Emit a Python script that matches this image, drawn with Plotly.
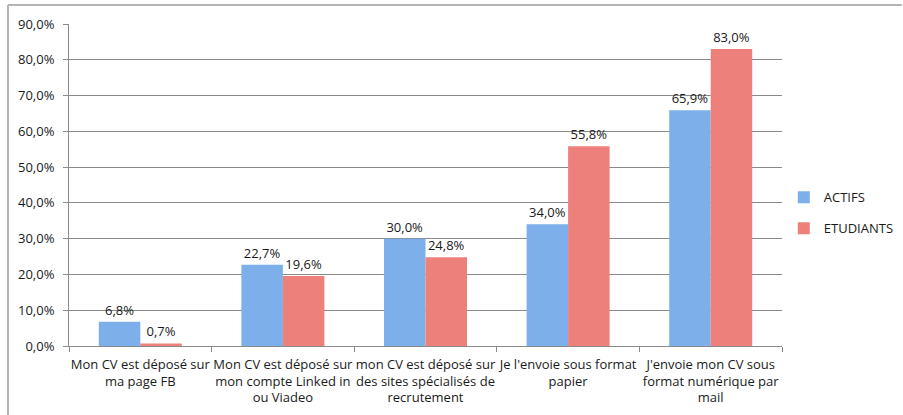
import plotly.graph_objects as go

# ── Data ───────────────────────────────────────────────────────────────────
CATEGORIES = [
    "Mon CV est déposé sur<br>ma page FB",
    "Mon CV est déposé sur<br>mon compte Linked in<br>ou Viadeo",
    "mon CV est déposé sur<br>des sites spécialisés de<br>recrutement",
    "Je l'envoie sous format<br>papier",
    "J'envoie mon CV sous<br>format numérique par<br>mail",
]
ACTIFS = [6.8, 22.7, 30.0, 34.0, 65.9]
ETUDIANTS = [0.7, 19.6, 24.8, 55.8, 83.0]
Y_TICKS = [0, 10, 20, 30, 40, 50, 60, 70, 80, 90]
Y_TICK_TEXT = [f"{v:.1f}%".replace(".", ",") for v in Y_TICKS]

FONT = {"family": "Open Sans, Noto Sans, sans-serif", "size": 13, "color": "#1a1a1a"}
AXIS_GREY = "#8a8a8a"
FRAME_GREY = "#b4b4b4"

fig = go.Figure()
fig.add_trace(go.Bar(
    x=CATEGORIES, y=ACTIFS, name="ACTIFS",
    marker={"color": "#7dafea", "line": {"width": 0}},
    texttemplate="%{y:.1f}%", textposition="outside",
    textfont=FONT, cliponaxis=False, legendgroup="a",
))
fig.add_trace(go.Bar(
    x=CATEGORIES, y=ETUDIANTS, name="ETUDIANTS",
    marker={"color": "#ed807a", "line": {"width": 0}},
    texttemplate="%{y:.1f}%", textposition="outside",
    textfont=FONT, cliponaxis=False, legendgroup="b",
))

# the paper runs to the top edge; the y axis only uses the lower part of it,
# so the frame's top edge can sit inside the paper
fig.update_layout(
    width=903, height=415,
    margin={"l": 69, "r": 121, "t": 0, "b": 69, "autoexpand": False},
    paper_bgcolor="white", plot_bgcolor="white",
    font=FONT,
    separators=", ",
    barmode="group", bargap=0.418, bargroupgap=0,
    legend={
        "xref": "container", "yref": "container",
        "x": 0.868, "y": 0.487, "xanchor": "left", "yanchor": "middle",
        "traceorder": "grouped", "tracegroupgap": 11,
        "font": FONT,
    },
    xaxis={
        "showline": True, "linecolor": AXIS_GREY, "linewidth": 1,
        "ticks": "outside", "tickson": "boundaries", "ticklen": 5,
        "tickcolor": AXIS_GREY, "showgrid": False, "tickangle": 0,
        "tickfont": FONT, "ticklabelstandoff": 6,
    },
    yaxis={
        "domain": [0, 0.9306],
        "range": [0, 90], "tickvals": Y_TICKS, "ticktext": Y_TICK_TEXT,
        "showline": True, "linecolor": AXIS_GREY, "linewidth": 1,
        "ticks": "outside", "ticklen": 5, "tickcolor": AXIS_GREY,
        "showgrid": True, "gridcolor": AXIS_GREY, "gridwidth": 1,
        "zeroline": False, "tickfont": FONT, "ticklabelstandoff": 6,
    },
    shapes=[
        {"type": "line", "xref": "paper", "yref": "paper",
         "x0": -0.0856, "x1": 1.168, "y0": 0.9855, "y1": 0.9855,
         "line": {"color": FRAME_GREY, "width": 2}},
        {"type": "line", "xref": "paper", "yref": "paper",
         "x0": -0.0856, "x1": -0.0856, "y0": 0.9855, "y1": -0.3,
         "line": {"color": FRAME_GREY, "width": 2}},
    ],
)

# page body has an 8px default margin; drop it so the figure sits at 0,0
fig.write_html(
    "out.html",
    config={"displayModeBar": False},
    post_script="document.body.style.margin='0';",
)
